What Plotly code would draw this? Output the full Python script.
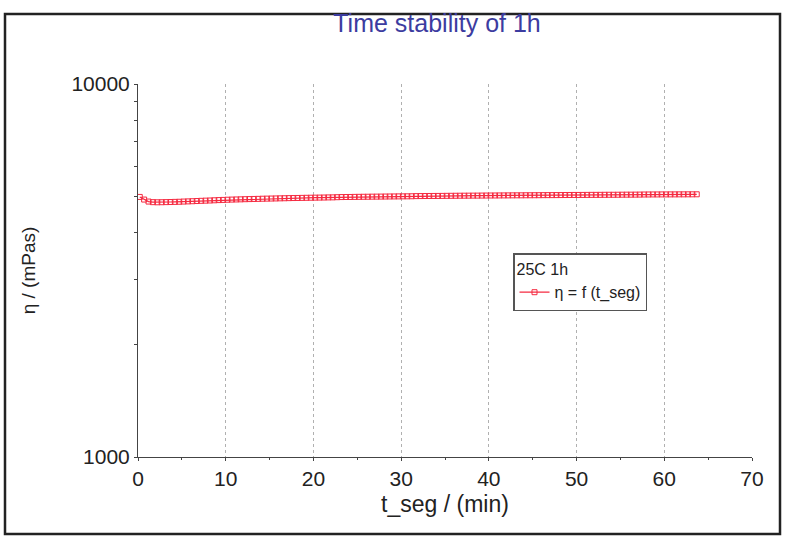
import plotly.graph_objects as go

title_text = "Time stability of 1h"
x_title = "t_seg / (min)"
y_title = "η / (mPas)"
legend_title = "25C 1h"
series_name = "η = f (t_seg)"

t_seg = [
    0.2, 0.7, 1.2, 1.7, 2.2, 2.7, 3.2, 3.7, 4.2, 4.7, 5.2, 5.7, 6.2, 6.7, 7.2, 7.7,
    8.2, 8.7, 9.2, 9.7, 10.2, 10.7, 11.2, 11.7, 12.2, 12.7, 13.2, 13.7, 14.2, 14.7, 15.2, 15.7,
    16.2, 16.7, 17.2, 17.7, 18.2, 18.7, 19.2, 19.7, 20.2, 20.7, 21.2, 21.7, 22.2, 22.7, 23.2, 23.7,
    24.2, 24.7, 25.2, 25.7, 26.2, 26.7, 27.2, 27.7, 28.2, 28.7, 29.2, 29.7, 30.2, 30.7, 31.2, 31.7,
    32.2, 32.7, 33.2, 33.7, 34.2, 34.7, 35.2, 35.7, 36.2, 36.7, 37.2, 37.7, 38.2, 38.7, 39.2, 39.7,
    40.2, 40.7, 41.2, 41.7, 42.2, 42.7, 43.2, 43.7, 44.2, 44.7, 45.2, 45.7, 46.2, 46.7, 47.2, 47.7,
    48.2, 48.7, 49.2, 49.7, 50.2, 50.7, 51.2, 51.7, 52.2, 52.7, 53.2, 53.7, 54.2, 54.7, 55.2, 55.7,
    56.2, 56.7, 57.2, 57.7, 58.2, 58.7, 59.2, 59.7, 60.2, 60.7, 61.2, 61.7, 62.2, 62.7, 63.2, 63.7,
]

eta = [
    4980, 4900, 4840, 4822, 4818, 4820, 4823, 4826, 4830, 4834, 4840, 4845, 4850, 4856, 4862, 4867,
    4872, 4878, 4884, 4889, 4895, 4899, 4903, 4907, 4911, 4914, 4918, 4921, 4925, 4928, 4931, 4934,
    4937, 4940, 4943, 4946, 4948, 4951, 4953, 4956, 4958, 4960, 4962, 4965, 4967, 4972, 4976, 4978,
    4979, 4981, 4983, 4985, 4986, 4988, 4989, 4991, 4992, 4994, 4995, 4997, 4998, 4999, 5001, 5005,
    5007, 5008, 5009, 5010, 5011, 5012, 5014, 5015, 5016, 5017, 5018, 5019, 5020, 5021, 5022, 5023,
    5024, 5025, 5026, 5027, 5028, 5029, 5030, 5030, 5031, 5032, 5033, 5034, 5035, 5036, 5036, 5037,
    5038, 5039, 5040, 5041, 5041, 5042, 5043, 5044, 5044, 5045, 5046, 5047, 5047, 5048, 5049, 5050,
    5050, 5051, 5053, 5055, 5056, 5057, 5057, 5058, 5058, 5059, 5059, 5060, 5060, 5061, 5061, 5062,
]

x_ticks = [0, 10, 20, 30, 40, 50, 60, 70]
y_ticks = [1000, 10000]
y_minor_ticks = [2000, 3000, 4000, 5000, 6000, 7000, 8000, 9000]

W, H = 786, 540
ML, MR, MT, MB = 138, 34, 84, 83
pw, ph = W - ML - MR, H - MT - MB

def px_x(v):
    return (v - ML) / pw

def px_y(v):
    return (H - MB - v) / ph

FONT = "Liberation Sans, Arial, sans-serif"
RED = "#f52a40"
TXT = "#222222"

fig = go.Figure()
fig.add_trace(go.Scatter(
    x=t_seg, y=eta, mode="lines+markers", name=series_name,
    line=dict(color=RED, width=1.2),
    marker=dict(symbol="square-open", size=5, color=RED, line=dict(width=1, color=RED)),
))

fig.update_layout(
    width=W, height=H,
    margin=dict(l=ML, r=MR, t=MT, b=MB),
    paper_bgcolor="white", plot_bgcolor="white",
    font=dict(family=FONT, color=TXT),
    title=dict(text=title_text, x=px_x(437), xref="paper", xanchor="center",
               y=1 - 23 / H, yref="container", yanchor="middle",
               font=dict(size=25, color="#3c3ca0", family=FONT)),
    showlegend=True,
    legend=dict(
        x=px_x(513), y=px_y(253), xanchor="left", yanchor="top",
        bordercolor="#555555", borderwidth=1.5, bgcolor="white",
        title=dict(text=legend_title, font=dict(size=16, family=FONT, color=TXT)),
        font=dict(size=16, family=FONT, color=TXT),
        itemwidth=30, tracegroupgap=0,
    ),
    xaxis=dict(
        range=[0, 70], tickvals=x_ticks, ticktext=[str(v) for v in x_ticks],
        showline=True, linecolor="#444444", linewidth=1, mirror=False,
        ticks="outside", ticklen=3, tickcolor="#444444",
        showgrid=True, gridcolor="#b0b0b0", griddash="dot", gridwidth=1,
        zeroline=False,
        tickfont=dict(size=21, family=FONT, color=TXT),
        title=dict(text=x_title, font=dict(size=23, family=FONT, color=TXT), standoff=6),
        minor=dict(dtick=5, ticks="outside", ticklen=2, tickcolor="#444444", showgrid=False),
    ),
    yaxis=dict(
        type="log", range=[3, 4], tickvals=y_ticks, ticktext=[str(v) for v in y_ticks],
        showline=True, linecolor="#444444", linewidth=1,
        ticks="outside", ticklen=3, tickcolor="#444444",
        showgrid=True, gridcolor="#b0b0b0", griddash="dot", gridwidth=1,
        zeroline=False,
        tickfont=dict(size=21, family=FONT, color=TXT),
        title=dict(text=y_title, font=dict(size=19, family=FONT, color=TXT), standoff=30),
        minor=dict(tickvals=y_minor_ticks, ticks="outside", ticklen=3,
                   tickcolor="#444444", showgrid=False),
    ),
)

fig.add_shape(type="rect", xref="paper", yref="paper",
              x0=px_x(5), x1=px_x(780), y0=px_y(534), y1=px_y(14),
              line=dict(color="#222222", width=2.5), fillcolor="rgba(0,0,0,0)", layer="above")

fig.write_html("out.html", config={"displayModeBar": False},
               post_script="document.body.style.margin='0';")
